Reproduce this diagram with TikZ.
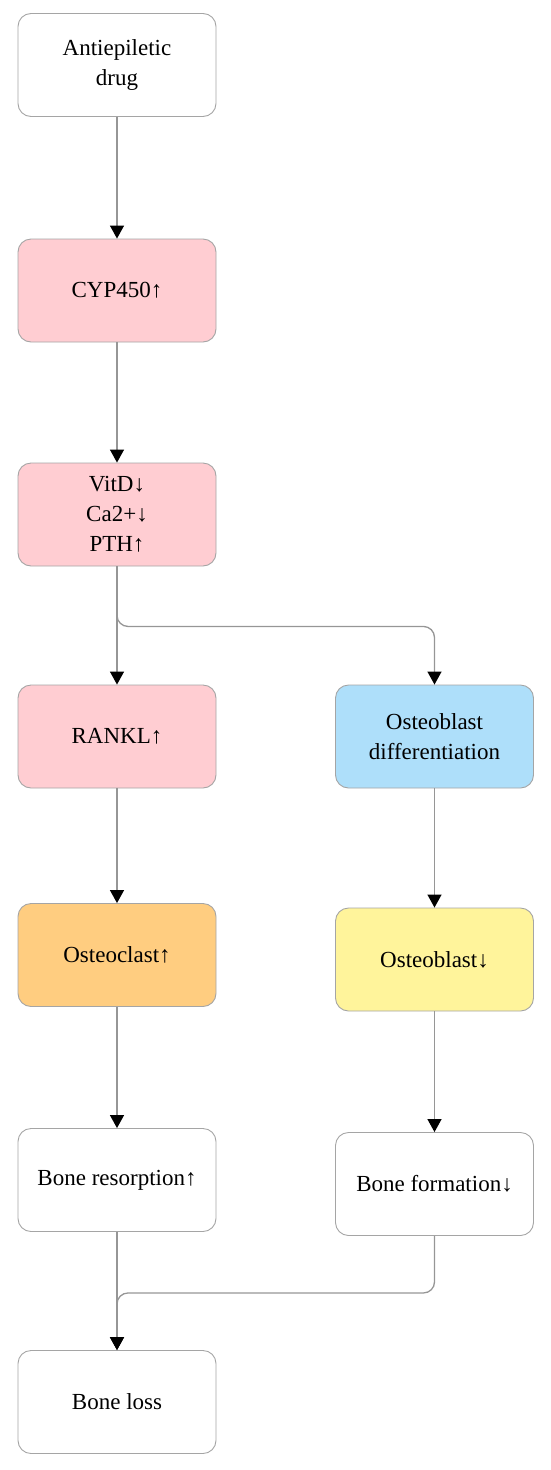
\documentclass[tikz,border=0pt]{standalone}
\usepackage{fontspec}
\setmainfont{Liberation Serif}
\usepackage{xcolor}
\usepackage{tikz}
\usetikzlibrary{arrows.meta,positioning}

\definecolor{boxpink}{RGB}{255,205,210}
\definecolor{boxblue}{RGB}{174,223,250}
\definecolor{boxorange}{RGB}{255,205,128}
\definecolor{boxyellow}{RGB}{255,244,155}
\definecolor{boxline}{RGB}{165,165,165}
\definecolor{flowline}{RGB}{150,150,150}

\begin{document}
\begin{tikzpicture}[
  x=1pt, y=-1pt,
  font=\fontsize{23}{30}\selectfont,
  box/.style={draw=boxline, fill=white, rounded corners=13pt, align=center,
    minimum width=198pt, minimum height=103pt, inner sep=4pt, line width=0.9pt},
  flow/.style={draw=flowline, line width=1.3pt,
    -{Triangle[width=14pt, length=13pt, color=black, fill=black]}}
]
\useasboundingbox (0,0) rectangle (550,1470);

% ── Left column ──
\node[box] (drug) at (117, 65) {Antiepiletic\\drug};
\node[box, fill=boxpink] (cyp) at (117, 290.5) {CYP450↑};
\node[box, fill=boxpink] (vit) at (117, 514.5) {VitD↓\\Ca2+↓\\PTH↑};
\node[box, fill=boxpink] (rankl) at (117, 736.5) {RANKL↑};
\node[box, fill=boxorange] (clast) at (117, 955) {Osteoclast↑};
\node[box] (resorp) at (117, 1180) {Bone resorption↑};
\node[box] (loss) at (117, 1402) {Bone loss};

% ── Right column ──
\node[box, fill=boxblue] (diff) at (434.5, 736.5) {Osteoblast\\differentiation};
\node[box, fill=boxyellow] (blast) at (434.5, 959.5) {Osteoblast↓};
\node[box] (form) at (434.5, 1184) {Bone formation↓};

% ── Arrows ──
\draw[flow] (drug) -- (cyp);
\draw[flow] (cyp) -- (vit);
\draw[flow] (vit) -- (rankl);
\draw[flow, rounded corners=11pt] (vit.south) -- ++(0,60) -| (diff.north);
\draw[flow] (rankl) -- (clast);
\draw[flow] (clast) -- (resorp);
\draw[flow] (diff) -- (blast);
\draw[flow] (blast) -- (form);
\draw[flow] (resorp) -- (loss);
\draw[flow, rounded corners=11pt] (form.south) -- ++(0,57) -| (loss.north);

\end{tikzpicture}
\end{document}
